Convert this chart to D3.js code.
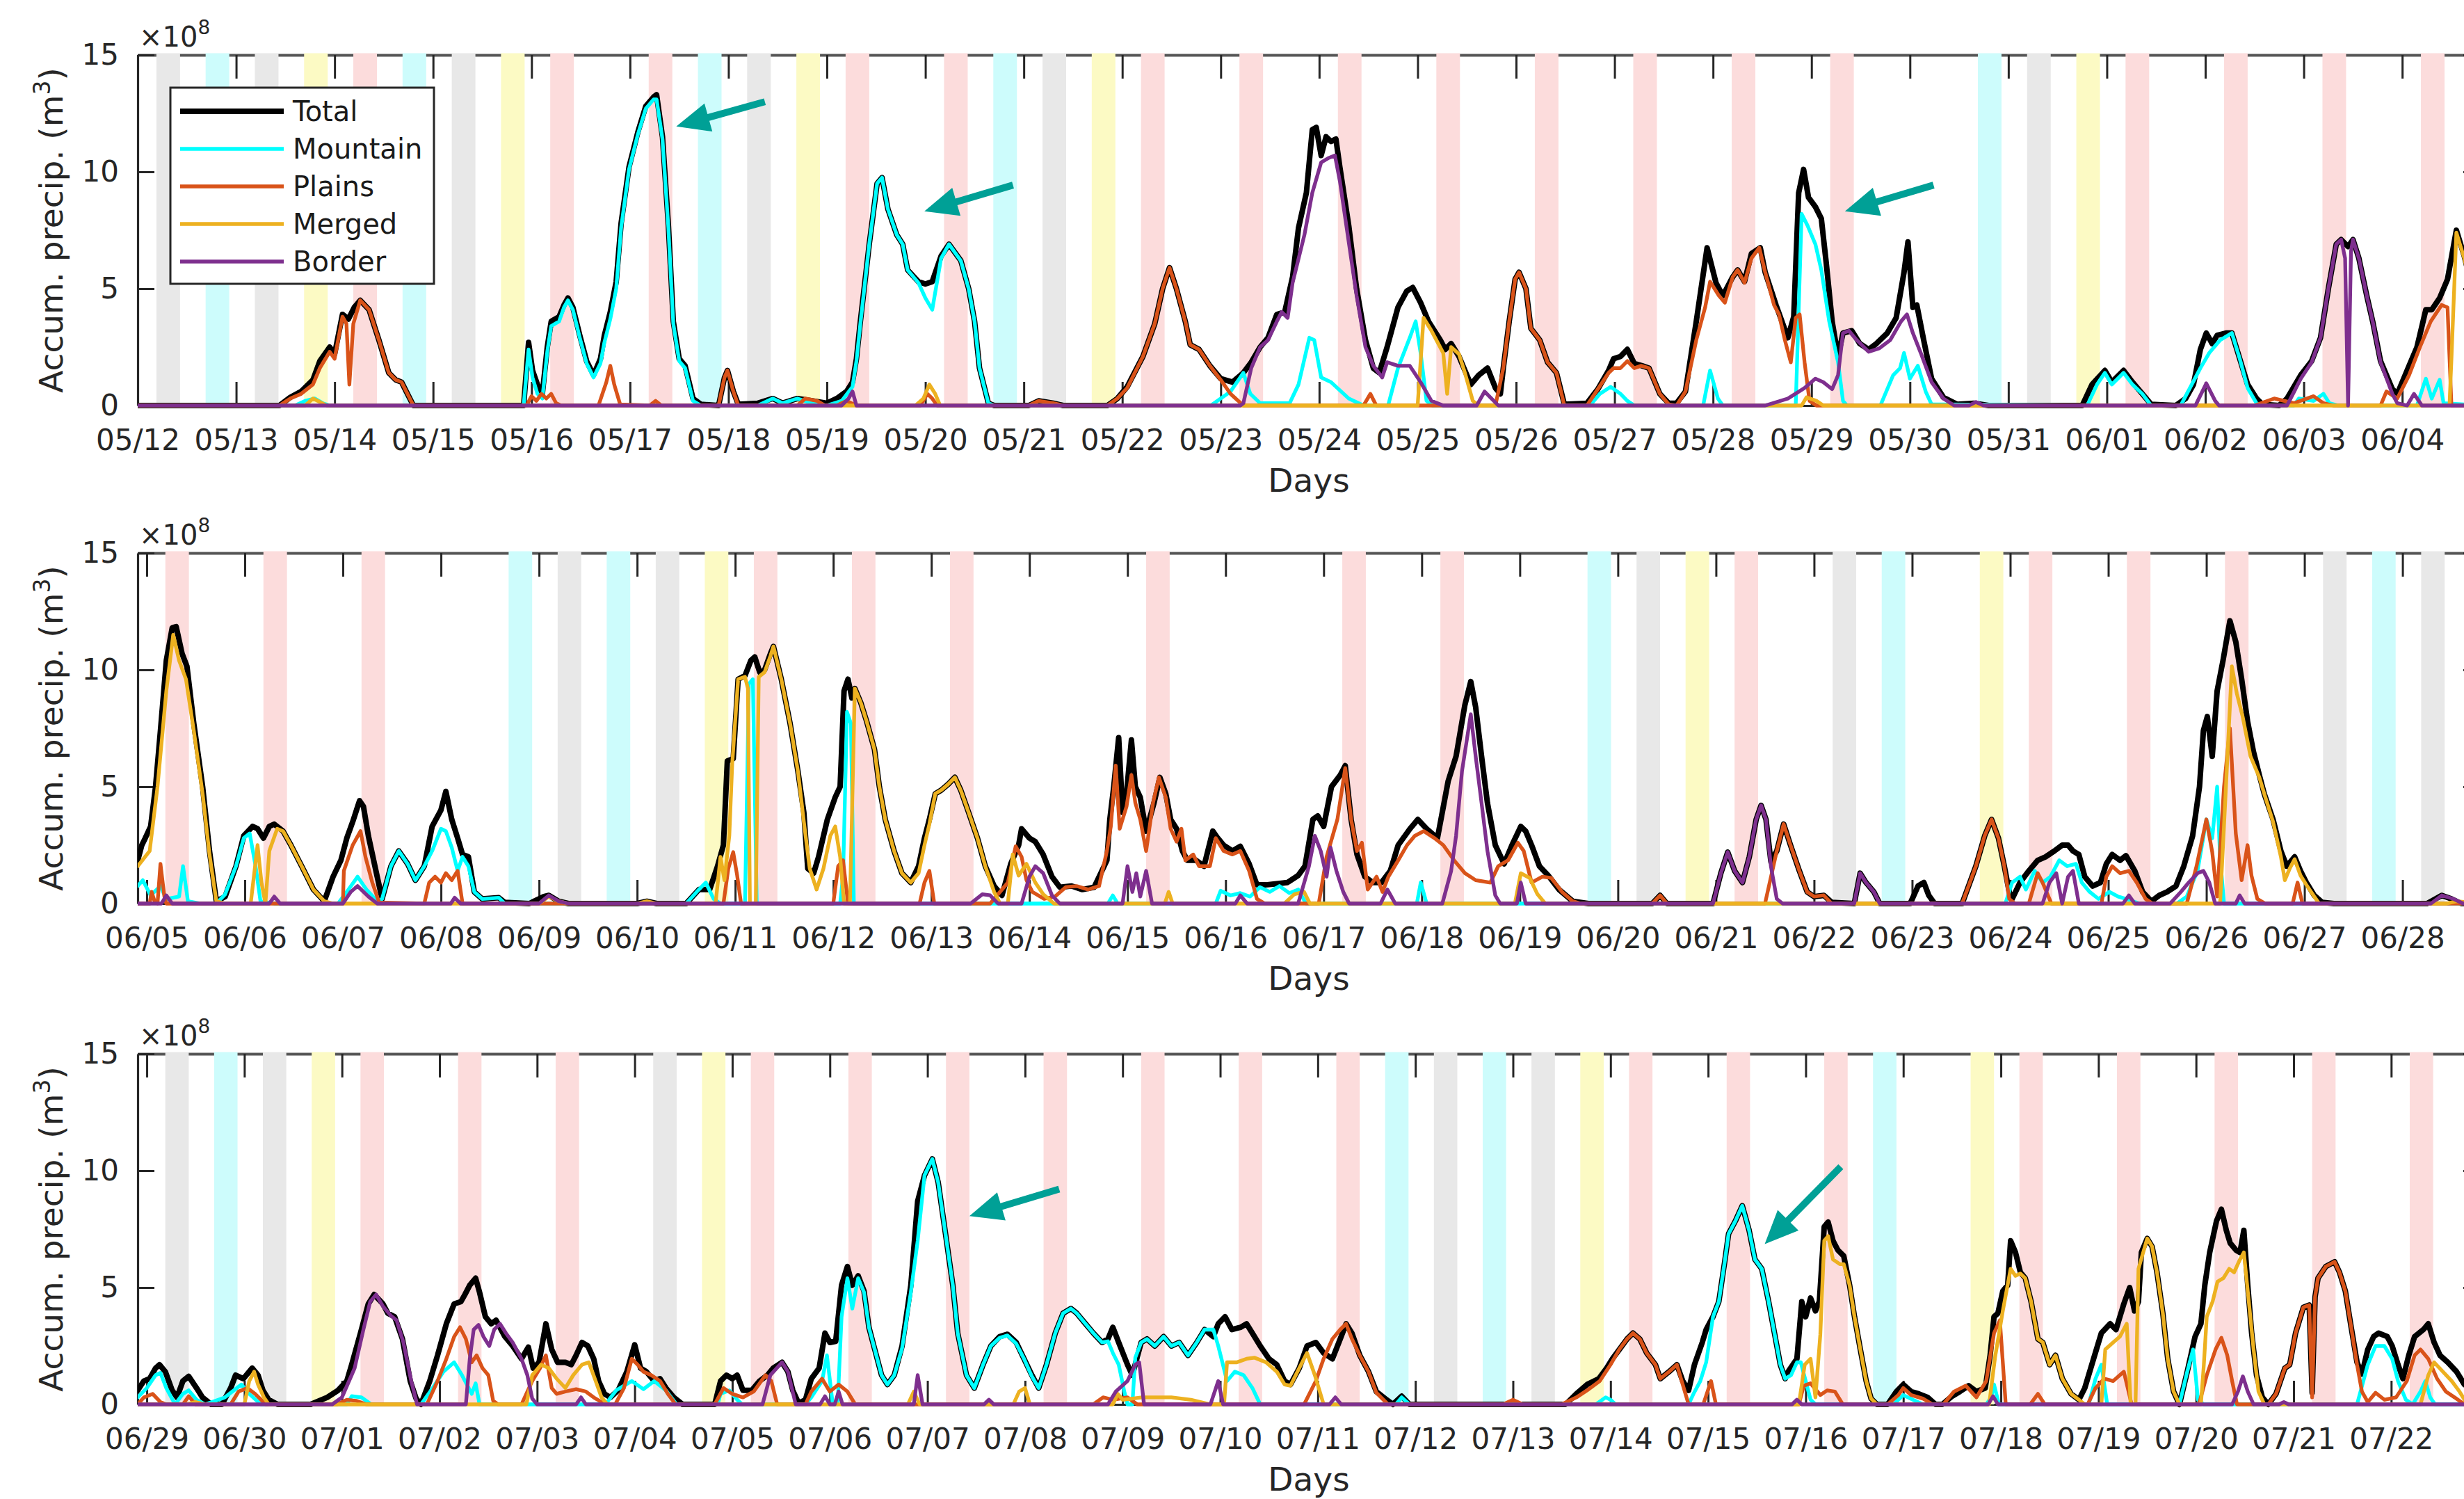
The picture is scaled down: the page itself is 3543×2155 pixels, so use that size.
<!DOCTYPE html>
<html>
<head>
<meta charset="utf-8">
<script src="https://cdn.jsdelivr.net/npm/d3@7"></script>
<style>
  html, body { margin: 0; padding: 0; background: #ffffff; }
  svg { display: block; font-family: "DejaVu Sans", sans-serif; }
</style>
</head>
<body>
<svg id="chart" width="3543" height="2155"></svg>
<script>
// ---------------------------------------------------------------------------
// Data: accumulated precipitation (units of 1e8 m^3), time in days from the
// first labelled day of each panel. Each series is a list of [day, value].
// ---------------------------------------------------------------------------
const seriesNames = ["Total", "Mountain", "Plains", "Merged", "Border"];
const yTicks = [0, 5, 10, 15];

// ---- Panel 1: 05/12 - 06/04 ----
const p1Labels = ["05/12","05/13","05/14","05/15","05/16","05/17","05/18","05/19","05/20","05/21","05/22","05/23",
                  "05/24","05/25","05/26","05/27","05/28","05/29","05/30","05/31","06/01","06/02","06/03","06/04"];
const p1Domain = [0, 23.79];
// half-day slot index and regime class of each shaded window
const p1Bands = [[0,"G"],[1,"C"],[2,"G"],[3,"Y"],[4,"P"],[5,"C"],[6,"G"],[7,"Y"],[8,"P"],[10,"P"],[11,"C"],[12,"G"],
                 [13,"Y"],[14,"P"],[16,"P"],[17,"C"],[18,"G"],[19,"Y"],[20,"P"],[22,"P"],[24,"P"],[26,"P"],[28,"P"],
                 [30,"P"],[32,"P"],[34,"P"],[37,"C"],[38,"G"],[39,"Y"],[40,"P"],[42,"P"],[44,"P"],[46,"P"]];
const p1Total = [[0,0],[1.44,0],[1.55,0.35],[1.66,0.6],[1.78,1.1],[1.85,1.9],[1.95,2.5],[2.0,2.2],[2.08,3.9],[2.14,3.7],
  [2.2,4.2],[2.26,4.5],[2.35,4.1],[2.45,2.8],[2.55,1.4],[2.62,1.1],[2.68,1.0],[2.8,0],
  [3.92,0],[3.97,2.7],[4.01,1.5],[4.06,0.9],[4.11,0.5],[4.16,2.5],[4.2,3.6],[4.28,3.8],[4.33,4.3],[4.37,4.6],[4.42,4.2],
  [4.49,3.0],[4.56,1.9],[4.63,1.3],[4.7,2.0],[4.74,3.0],[4.8,4.0],[4.86,5.3],[4.91,7.8],[4.99,10.2],[5.08,11.7],
  [5.16,12.8],[5.24,13.2],[5.27,13.3],[5.33,11.5],[5.39,7.7],[5.44,3.6],[5.5,2.0],[5.56,1.7],[5.64,0.3],[5.72,0.05],
  [5.9,0],[5.96,1.2],[5.99,1.5],[6.05,0.6],[6.1,0.05],
  [6.3,0.1],[6.45,0.3],[6.55,0.1],[6.7,0.3],[6.85,0.2],[7.0,0.1],[7.1,0.3],[7.2,0.6],[7.26,1.0],[7.3,2.0],[7.34,3.6],
  [7.43,6.9],[7.51,9.5],[7.56,9.75],[7.62,8.4],[7.71,7.3],[7.77,6.9],[7.82,5.8],[7.93,5.3],[8.0,5.2],[8.07,5.3],
  [8.16,6.4],[8.24,6.9],[8.36,6.2],[8.44,5.0],[8.5,3.6],[8.55,1.6],[8.64,0.1],[8.7,0],
  [9.05,0],[9.15,0.2],[9.3,0.1],[9.4,0],
  [9.85,0],[9.95,0.3],[10.05,0.8],[10.21,2.1],[10.33,3.5],[10.41,5.0],[10.48,5.9],[10.55,5.0],[10.64,3.6],[10.69,2.6],
  [10.78,2.4],[10.89,1.7],[11.0,1.15],[11.12,1.0],[11.23,1.4],[11.31,1.85],[11.4,2.5],[11.48,2.9],[11.57,3.9],
  [11.65,4.0],[11.73,5.5],[11.79,7.6],[11.87,9.1],[11.93,11.8],[11.97,11.9],[12.02,10.7],[12.07,11.5],[12.12,11.3],
  [12.17,11.4],[12.21,10.2],[12.3,7.7],[12.38,5.0],[12.47,2.8],[12.55,1.6],[12.61,1.4],[12.69,2.5],[12.8,4.2],
  [12.89,4.9],[12.95,5.05],[13.03,4.4],[13.11,3.6],[13.23,2.8],[13.28,2.4],[13.34,2.65],[13.42,2.1],[13.54,0.9],
  [13.62,1.3],[13.71,1.6],[13.79,0.75],[13.84,0.5],[13.87,1.6],[13.93,3.6],[13.99,5.4],[14.03,5.7],[14.1,5.0],
  [14.15,3.3],[14.24,2.8],[14.32,1.85],[14.41,1.4],[14.49,0.05],
  [14.72,0.1],[14.83,0.7],[14.94,1.5],[14.99,2.0],[15.06,2.1],[15.13,2.4],[15.2,1.8],[15.28,1.7],[15.35,1.6],
  [15.46,0.5],[15.55,0.1],[15.63,0.1],[15.72,0.6],[15.83,3.6],[15.94,6.75],[16.03,5.25],[16.1,4.7],[16.2,5.5],
  [16.25,5.8],[16.32,5.3],[16.39,6.5],[16.48,6.75],[16.53,5.7],[16.64,4.3],[16.76,2.9],[16.82,3.8],[16.87,9.1],
  [16.92,10.1],[16.97,8.9],[17.04,8.5],[17.1,8.0],[17.15,6.1],[17.21,3.6],[17.27,2.1],[17.32,3.1],[17.41,3.2],
  [17.49,2.65],[17.58,2.4],[17.66,2.65],[17.77,3.1],[17.86,3.75],[17.94,5.7],[17.98,7.0],[18.03,4.2],[18.07,4.3],
  [18.14,2.8],[18.22,1.15],[18.34,0.35],[18.48,0.05],[18.65,0.1],[18.8,0],
  [19.75,0],[19.85,0.9],[19.98,1.5],[20.05,1.0],[20.17,1.5],[20.26,1.0],[20.36,0.5],[20.45,0.05],
  [20.7,0],[20.8,0.3],[20.88,0.9],[20.95,2.4],[21.01,3.1],[21.07,2.65],[21.12,3.0],[21.21,3.1],[21.27,3.1],
  [21.35,2.0],[21.43,0.9],[21.52,0.3],[21.58,0.05],
  [21.75,0],[21.83,0.3],[21.97,1.3],[22.08,1.9],[22.17,2.9],[22.25,5.0],[22.33,6.9],[22.38,7.1],[22.45,6.8],
  [22.5,7.1],[22.56,6.3],[22.64,4.7],[22.7,3.6],[22.78,1.9],[22.9,0.7],[22.95,0.5],[23.07,1.7],[23.15,2.5],
  [23.24,4.1],[23.3,4.1],[23.38,4.6],[23.46,5.4],[23.55,7.5],[23.63,6.4],[23.7,5.2],[23.79,4.4]];
const p1Mountain = [[0,0],[1.6,0],[1.7,0.2],[1.8,0.3],[1.88,0.1],[1.95,0],
  [3.92,0],[3.97,2.4],[4.01,1.2],[4.06,0.5],[4.11,0.3],[4.16,2.3],[4.2,3.4],[4.28,3.6],[4.33,4.2],[4.37,4.5],
  [4.42,4.1],[4.49,2.9],[4.56,1.8],[4.63,1.2],[4.7,1.8],[4.74,2.7],[4.8,3.7],[4.86,5.0],[4.91,7.6],[4.99,10.1],
  [5.08,11.6],[5.16,12.7],[5.24,13.1],[5.27,13.1],[5.33,11.4],[5.39,7.6],[5.44,3.5],[5.5,1.9],[5.56,1.6],
  [5.64,0.2],[5.72,0],
  [6.3,0],[6.45,0.3],[6.55,0.1],[6.7,0.3],[6.85,0.1],[7.0,0],[7.15,0.2],[7.26,0.8],[7.3,1.9],[7.34,3.5],[7.43,6.9],
  [7.51,9.5],[7.56,9.75],[7.62,8.4],[7.71,7.3],[7.77,6.9],[7.82,5.8],[7.93,5.25],[8.0,4.6],[8.07,4.1],[8.16,6.3],
  [8.24,6.9],[8.36,6.2],[8.44,5.0],[8.5,3.6],[8.55,1.6],[8.64,0.1],[8.7,0],
  [10.9,0],[11.0,0.3],[11.1,0.6],[11.23,1.4],[11.3,0.5],[11.4,0.1],[11.7,0.1],[11.79,0.9],[11.9,2.9],[11.95,2.8],
  [12.02,1.2],[12.12,1.0],[12.3,0.3],[12.45,0],[12.7,0],[12.8,1.6],[12.92,2.9],[12.98,3.6],[13.03,2.25],[13.09,0.2],
  [13.15,0],
  [14.75,0],[14.85,0.5],[14.96,0.8],[15.06,0.5],[15.13,0.2],[15.2,0],
  [15.9,0],[15.97,1.5],[16.05,0.3],[16.1,0],
  [16.84,0],[16.9,8.2],[16.96,7.7],[17.04,6.9],[17.1,5.8],[17.18,3.6],[17.27,1.85],[17.32,0.2],[17.36,0],
  [17.7,0],[17.83,1.3],[17.9,1.6],[17.94,2.25],[18.0,1.15],[18.08,1.7],[18.16,0.6],[18.22,0.05],
  [19.8,0],[19.9,0.9],[19.98,1.4],[20.05,0.9],[20.17,1.4],[20.26,0.9],[20.36,0.5],[20.45,0],
  [20.75,0],[20.95,1.6],[21.04,2.25],[21.15,2.8],[21.27,3.1],[21.35,2.0],[21.43,0.75],[21.52,0.1],[21.56,0],
  [21.9,0],[21.95,0.3],[22.1,0.2],[22.2,0.5],[22.26,0.1],[22.35,0],
  [23.15,0],[23.24,1.15],[23.3,0.3],[23.38,1.1],[23.42,0.1],[23.79,0]];
const p1Plains = [[0,0],[1.44,0],[1.55,0.3],[1.66,0.5],[1.78,0.9],[1.85,1.6],[1.95,2.3],[2.0,2.0],[2.08,3.8],[2.12,3.5],
  [2.15,0.9],[2.19,3.5],[2.26,4.5],[2.35,4.1],[2.45,2.8],[2.55,1.4],[2.62,1.1],[2.68,1.0],[2.8,0],
  [3.95,0],[4.0,0.4],[4.05,0.2],[4.1,0.5],[4.15,0.3],[4.2,0.5],[4.25,0.1],[4.3,0],[4.68,0],[4.76,1.0],[4.8,1.7],
  [4.84,0.9],[4.9,0.05],[5.2,0],[5.26,0.2],[5.32,0],[5.9,0],[5.96,1.2],[5.99,1.5],[6.05,0.6],[6.1,0],
  [6.7,0],[6.78,0.3],[6.9,0.2],[6.98,0],[7.1,0],[7.2,0.2],[7.3,0],
  [7.95,0],[8.02,0.5],[8.07,0.3],[8.12,0],
  [9.05,0],[9.15,0.2],[9.3,0.1],[9.4,0],
  [9.85,0],[9.95,0.3],[10.05,0.75],[10.21,2.1],[10.33,3.5],[10.41,5.0],[10.48,5.9],[10.55,5.0],[10.64,3.6],
  [10.69,2.6],[10.78,2.4],[10.89,1.7],[11.0,1.1],[11.1,0.5],[11.23,0],
  [12.45,0],[12.52,0.5],[12.58,0],
  [13.79,0],[13.87,1.6],[13.93,3.6],[13.99,5.4],[14.03,5.7],[14.1,5.0],[14.15,3.3],[14.24,2.8],[14.32,1.85],
  [14.41,1.4],[14.49,0],
  [14.72,0],[14.83,0.7],[14.94,1.4],[14.99,1.6],[15.06,1.6],[15.13,1.9],[15.2,1.6],[15.27,1.7],[15.35,1.6],
  [15.46,0.5],[15.55,0.05],
  [15.63,0],[15.72,0.6],[15.83,2.8],[15.92,4.2],[15.97,5.3],[16.06,4.7],[16.12,4.4],[16.2,5.5],[16.25,5.8],
  [16.32,5.25],[16.39,6.3],[16.47,6.75],[16.53,5.7],[16.62,4.3],[16.67,3.9],[16.73,2.8],[16.79,1.85],[16.84,3.75],
  [16.88,3.9],[16.93,1.85],[16.98,0.2],[17.05,0],
  [21.5,0],[21.7,0.3],[21.9,0.1],[22.1,0.4],[22.2,0.1],[22.3,0],
  [22.78,0],[22.84,0.6],[22.95,0.3],[23.07,1.3],[23.18,2.5],[23.29,3.6],[23.4,4.3],[23.46,4.2],[23.5,0],[23.79,0]];
const p1Merged = [[0,0],[1.7,0],[1.78,0.3],[1.85,0.15],[1.92,0],
  [7.9,0],[7.98,0.3],[8.04,0.9],[8.1,0.5],[8.15,0],
  [13.0,0],[13.06,3.75],[13.14,3.2],[13.26,2.25],[13.3,0.5],[13.34,2.5],[13.42,2.2],[13.48,1.4],[13.56,0.2],[13.62,0],
  [16.9,0],[16.95,0.35],[17.05,0.2],[17.12,0],
  [23.48,0],[23.5,2.0],[23.55,7.4],[23.63,6.3],[23.7,5.0],[23.79,4.0]];
const p1Border = [[0,0],[7.15,0],[7.22,0.3],[7.26,0.6],[7.3,0],
  [11.2,0],[11.23,0.1],[11.31,1.6],[11.4,2.5],[11.48,2.8],[11.57,3.6],[11.62,4.0],[11.68,3.75],[11.73,5.25],
  [11.85,7.3],[11.93,9.1],[12.02,10.4],[12.1,10.6],[12.16,10.7],[12.21,9.6],[12.3,7.0],[12.38,4.7],[12.47,2.5],
  [12.55,1.7],[12.64,1.2],[12.69,1.85],[12.8,1.7],[12.92,1.7],[13.03,1.0],[13.14,0.2],[13.26,0],[13.6,0],[13.68,0.6],
  [13.82,0],
  [16.53,0],[16.76,0.3],[16.93,0.75],[17.04,1.15],[17.12,1.0],[17.21,0.7],[17.27,1.3],[17.32,3.1],[17.38,3.2],
  [17.46,2.8],[17.58,2.3],[17.69,2.45],[17.8,2.8],[17.91,3.6],[17.97,3.9],[18.03,3.1],[18.11,2.25],[18.22,1.0],
  [18.34,0.3],[18.45,0],[18.6,0],[18.67,0.15],[18.75,0],
  [20.9,0],[21.01,0.95],[21.1,0.2],[21.14,0],
  [21.83,0],[21.97,1.15],[22.08,1.85],[22.17,2.9],[22.25,5.0],[22.33,6.9],[22.38,7.1],[22.42,6.3],[22.45,0],
  [22.48,6.6],[22.5,7.1],[22.56,6.3],[22.64,4.7],[22.7,3.6],[22.78,1.85],[22.9,0.5],[22.95,0.1],[23.05,0],
  [23.12,0.5],[23.2,0],[23.79,0]];
const p1Arrows = [[6.37,13.0,5.47,11.94],[8.89,9.43,7.99,8.31],[18.24,9.43,17.34,8.31]];

// ---- Panel 2: 06/05 - 06/28 ----
const p2Labels = ["06/05","06/06","06/07","06/08","06/09","06/10","06/11","06/12","06/13","06/14","06/15","06/16",
                  "06/17","06/18","06/19","06/20","06/21","06/22","06/23","06/24","06/25","06/26","06/27","06/28"];
const p2Domain = [-0.092, 23.79];
const p2Bands = [[0,"P"],[2,"P"],[4,"P"],[7,"C"],[8,"G"],[9,"C"],[10,"G"],[11,"Y"],[12,"P"],[14,"P"],[16,"P"],[20,"P"],
                 [24,"P"],[26,"P"],[29,"C"],[30,"G"],[31,"Y"],[32,"P"],[34,"G"],[35,"C"],[37,"Y"],[38,"P"],[40,"P"],
                 [42,"P"],[44,"G"],[45,"C"],[46,"G"]];
const p2Total = [[-0.092,1.85],[-0.05,2.5],[-0.015,2.8],[0.04,3.3],[0.09,5.0],[0.14,7.4],[0.2,10.4],[0.26,11.8],
  [0.3,11.85],[0.36,10.7],[0.41,10.15],[0.48,7.7],[0.57,5.0],[0.64,2.25],[0.71,0.1],[0.8,0.3],[0.91,1.6],[0.99,2.9],
  [1.08,3.3],[1.13,3.2],[1.19,2.8],[1.25,3.3],[1.3,3.4],[1.39,3.1],[1.47,2.5],[1.58,1.6],[1.7,0.6],[1.81,0.1],
  [1.9,1.15],[1.98,1.85],[2.04,2.8],[2.1,3.5],[2.17,4.4],[2.21,4.15],[2.26,2.9],[2.35,1.15],[2.4,0.2],[2.49,1.6],
  [2.57,2.25],[2.66,1.7],[2.74,1.0],[2.83,1.6],[2.91,3.3],[3.0,4.0],[3.05,4.8],[3.11,3.6],[3.17,2.8],[3.22,2.1],
  [3.28,2.0],[3.34,0.5],[3.42,0.2],[3.59,0.25],[3.65,0.05],
  [3.9,0],[4.05,0.3],[4.1,0.35],[4.2,0.1],[4.3,0],[5.0,0],[5.1,0.1],[5.2,0],
  [5.5,0],[5.63,0.6],[5.74,0.6],[5.82,1.6],[5.88,2.5],[5.92,6.1],[5.98,6.2],[6.03,9.6],[6.1,9.75],[6.16,10.4],
  [6.2,10.55],[6.25,9.9],[6.3,10.0],[6.36,10.7],[6.39,11.0],[6.47,9.6],[6.56,7.7],[6.64,5.65],[6.7,3.9],[6.74,1.5],
  [6.8,1.3],[6.85,2.0],[6.94,3.6],[7.02,4.55],[7.07,5.0],[7.11,9.1],[7.15,9.6],[7.19,8.8],[7.22,9.2],[7.28,8.6],
  [7.34,7.8],[7.42,6.6],[7.47,5.0],[7.53,3.6],[7.62,2.25],[7.7,1.3],[7.79,0.9],[7.87,1.6],[7.93,2.8],[7.98,3.6],
  [8.04,4.7],[8.1,4.85],[8.17,5.1],[8.24,5.4],[8.3,4.85],[8.38,3.9],[8.47,2.8],[8.55,1.6],[8.64,0.75],[8.72,0.35],
  [8.81,1.7],[8.89,2.5],[8.92,3.2],[9.0,2.8],[9.06,2.65],[9.14,2.1],[9.23,1.15],[9.31,0.7],[9.43,0.75],[9.54,0.6],
  [9.66,0.7],[9.79,1.85],[9.82,3.6],[9.86,5.0],[9.91,7.1],[9.95,3.9],[9.99,4.7],[10.04,7.0],[10.08,5.0],[10.13,4.55],
  [10.19,3.1],[10.27,4.3],[10.33,5.4],[10.39,4.7],[10.44,3.6],[10.5,3.2],[10.56,2.25],[10.61,1.85],[10.7,1.85],
  [10.78,1.6],[10.87,3.1],[10.92,2.8],[10.98,2.5],[11.07,2.25],[11.15,2.45],[11.24,1.7],[11.32,0.8],[11.41,0.8],
  [11.52,0.85],[11.63,0.9],[11.74,1.2],[11.81,1.6],[11.89,3.6],[11.94,3.75],[12.0,3.3],[12.08,5.0],[12.17,5.5],
  [12.22,5.9],[12.28,3.6],[12.34,2.1],[12.42,1.15],[12.5,0.9],[12.59,0.9],[12.68,1.4],[12.76,2.5],[12.88,3.2],
  [12.96,3.6],[13.05,3.2],[13.16,2.8],[13.27,5.25],[13.35,6.3],[13.44,8.5],[13.5,9.5],[13.55,8.4],[13.61,6.3],
  [13.67,4.3],[13.75,2.5],[13.84,1.7],[13.92,2.5],[14.01,3.3],[14.06,3.1],[14.12,2.5],[14.2,1.6],[14.29,1.2],
  [14.4,0.6],[14.54,0.1],[14.7,0],
  [15.35,0],[15.43,0.35],[15.5,0],
  [15.97,0],[16.05,1.3],[16.12,2.2],[16.19,1.4],[16.27,0.9],[16.34,2.0],[16.41,3.6],[16.46,4.2],[16.51,3.6],
  [16.56,1.8],[16.62,2.25],[16.69,3.4],[16.76,2.5],[16.85,1.4],[16.93,0.5],[17.0,0.3],[17.1,0.35],[17.18,0.05],
  [17.41,0],[17.47,1.3],[17.53,0.9],[17.61,0.5],[17.67,0],
  [17.98,0],[18.06,0.75],[18.12,0.9],[18.17,0.35],[18.23,0],
  [18.51,0],[18.65,1.6],[18.74,2.9],[18.81,3.6],[18.88,2.8],[18.94,1.6],[18.99,0.5],[19.02,0.2],[19.1,0.9],
  [19.19,1.4],[19.28,1.85],[19.36,2.0],[19.45,2.25],[19.53,2.5],[19.59,2.5],[19.64,2.25],[19.7,2.1],[19.76,1.15],
  [19.84,0.75],[19.92,0.9],[19.98,1.7],[20.04,2.1],[20.12,1.85],[20.18,2.05],[20.27,1.4],[20.35,0.5],[20.44,0.1],
  [20.52,0.35],[20.6,0.5],[20.69,0.75],[20.77,1.6],[20.86,2.9],[20.93,5.0],[20.97,7.4],[21.01,8.0],[21.06,6.3],
  [21.11,9.1],[21.17,10.4],[21.24,12.1],[21.3,11.2],[21.36,9.6],[21.42,7.8],[21.48,6.5],[21.54,5.5],[21.59,4.7],
  [21.68,3.6],[21.76,2.25],[21.82,1.6],[21.9,2.0],[21.96,1.4],[22.02,0.9],[22.1,0.35],[22.18,0.05],[22.3,0],
  [23.25,0],[23.4,0.35],[23.5,0.2],[23.6,0],[23.79,0]];
const p2Mountain = [[-0.092,0.75],[-0.04,1.0],[0.04,0.35],[0.14,0.75],[0.2,0.2],[0.33,0.3],[0.37,1.6],[0.42,0.1],
  [0.55,0],[0.71,0],[0.8,0.4],[0.91,1.6],[0.99,2.8],[1.05,3.0],[1.11,1.6],[1.16,0.1],[1.3,0],
  [1.95,0],[2.04,0.5],[2.15,1.15],[2.24,0.6],[2.35,0.1],[2.4,0.2],[2.49,1.6],[2.57,2.25],[2.66,1.7],[2.74,1.0],
  [2.83,1.6],[2.91,2.25],[3.0,3.2],[3.05,3.1],[3.11,2.4],[3.17,1.4],[3.22,2.0],[3.28,1.6],[3.34,0.5],[3.42,0.2],
  [3.59,0.25],[3.65,0],
  [5.5,0],[5.63,0.6],[5.7,0.9],[5.78,0.2],[5.85,0],[6.1,0],[6.14,9.4],[6.18,9.6],[6.22,0],
  [7.07,0],[7.1,1.2],[7.14,8.2],[7.18,7.7],[7.21,0],
  [9.8,0],[9.85,0.35],[9.9,0],
  [10.9,0],[10.95,0.55],[11.05,0.35],[11.15,0.45],[11.25,0.3],[11.35,0.7],[11.45,0.5],[11.55,0.75],[11.65,0.45],
  [11.74,0.6],[11.82,0],
  [12.95,0],[12.99,0.9],[13.05,0],
  [18.95,0],[19.02,0.9],[19.1,1.15],[19.16,0.6],[19.25,1.4],[19.33,0.9],[19.41,1.15],[19.5,1.85],[19.58,1.6],
  [19.67,1.7],[19.73,0.9],[19.81,0.5],[19.9,0.2],[20.01,0.5],[20.1,0.3],[20.18,0.2],[20.32,0],
  [20.7,0],[20.8,0.3],[20.91,1.4],[21.0,3.6],[21.06,2.8],[21.11,5.0],[21.14,2.0],[21.18,0],[23.79,0]];
const p2Plains = [[-0.092,0],[0.03,0],[0.05,0.5],[0.08,0.1],[0.11,0],[0.14,1.7],[0.18,0.3],[0.2,0],
  [2.0,0],[2.01,1.4],[2.1,2.5],[2.18,3.1],[2.23,2.0],[2.3,0.9],[2.37,0.05],[2.83,0],[2.88,0.9],[2.94,1.15],[3.0,0.9],
  [3.05,1.3],[3.11,1.0],[3.17,1.4],[3.22,0],
  [5.88,0],[5.93,1.5],[5.98,2.2],[6.02,1.2],[6.06,0],
  [7.0,0],[7.05,1.6],[7.1,1.85],[7.15,0],
  [7.88,0],[7.93,0.9],[7.98,1.4],[8.03,0],
  [8.6,0],[8.78,0.9],[8.86,2.45],[8.92,2.0],[8.97,1.0],[9.03,0.5],[9.15,0.2],[9.26,0.3],[9.37,0.7],[9.48,0.75],
  [9.6,0.6],[9.71,0.75],[9.79,2.25],[9.83,3.3],[9.88,5.9],[9.92,3.2],[9.99,4.15],[10.04,5.5],[10.08,4.3],
  [10.13,3.6],[10.19,2.25],[10.26,4.3],[10.32,5.4],[10.39,4.55],[10.44,3.2],[10.5,2.65],[10.55,3.2],[10.59,1.85],
  [10.67,2.1],[10.73,1.6],[10.84,1.6],[10.9,2.8],[10.98,2.25],[11.07,2.1],[11.15,2.25],[11.24,1.4],[11.32,0.2],
  [11.4,0],
  [11.95,0],[12.03,2.0],[12.14,3.6],[12.22,5.8],[12.28,3.6],[12.34,2.25],[12.39,2.6],[12.45,0.6],[12.54,1.15],
  [12.6,0.5],[12.66,1.15],[12.76,1.85],[12.85,2.5],[12.93,2.9],[13.02,3.1],[13.13,2.8],[13.22,2.5],[13.33,1.85],
  [13.44,1.3],[13.55,1.0],[13.7,0.9],[13.78,1.6],[13.88,1.85],[13.98,2.6],[14.04,2.25],[14.12,0.9],[14.23,1.15],
  [14.32,1.1],[14.43,0.5],[14.54,0.1],[14.62,0],
  [15.35,0],[15.43,0.35],[15.5,0],
  [16.5,0],[16.62,2.25],[16.69,3.4],[16.76,2.5],[16.85,1.4],[16.93,0.5],[17.0,0.3],[17.1,0.35],[17.18,0],
  [18.51,0],[18.65,1.6],[18.74,2.9],[18.81,3.6],[18.88,2.8],[18.94,1.6],[18.99,0.2],[19.05,0],
  [19.19,0],[19.28,1.3],[19.33,0.9],[19.42,0],
  [19.93,0],[19.98,1.15],[20.04,1.6],[20.12,1.3],[20.21,1.4],[20.29,0.9],[20.38,0.2],[20.45,0],
  [20.8,0],[20.9,1.6],[21.0,3.6],[21.06,2.2],[21.11,0.3],[21.18,5.0],[21.24,7.5],[21.3,3.0],[21.36,1.0],[21.42,2.5],
  [21.46,1.2],[21.52,0.2],[21.6,0],[21.88,0],[21.93,0.9],[21.98,0],[23.79,0]];
const p2Merged = [[-0.092,1.6],[0.03,2.25],[0.11,5.0],[0.2,9.1],[0.27,11.5],[0.33,10.4],[0.4,9.6],[0.48,7.4],
  [0.57,4.7],[0.64,2.1],[0.71,0.1],[0.8,0],[1.06,0],[1.13,2.5],[1.17,0.9],[1.21,0],[1.25,2.25],[1.33,3.2],[1.39,3.1],
  [1.47,2.5],[1.58,1.6],[1.7,0.6],[1.81,0.1],[1.9,0],
  [4.0,0],[4.1,0.3],[4.2,0.1],[4.3,0],[5.0,0],[5.1,0.1],[5.2,0],
  [5.8,0],[5.85,2.0],[5.89,1.0],[5.94,2.9],[5.97,6.0],[6.03,9.6],[6.1,9.7],[6.13,9.2],[6.15,0],[6.21,0],[6.24,9.7],
  [6.3,9.9],[6.36,10.6],[6.39,11.0],[6.47,9.6],[6.56,7.7],[6.64,5.65],[6.7,3.5],[6.76,1.5],[6.83,0.6],[6.9,1.5],
  [6.97,2.9],[7.02,3.3],[7.07,2.0],[7.11,0],[7.17,0],[7.22,9.2],[7.28,8.6],[7.34,7.8],[7.42,6.6],[7.47,5.0],
  [7.53,3.6],[7.62,2.25],[7.7,1.3],[7.79,0.9],[7.87,1.3],[7.93,2.5],[7.98,3.4],[8.04,4.7],[8.1,4.85],[8.17,5.1],
  [8.24,5.4],[8.3,4.85],[8.38,3.9],[8.47,2.8],[8.55,1.6],[8.64,0.5],[8.7,0],[8.78,0],[8.83,2.1],[8.89,1.2],
  [8.97,1.7],[9.06,0.9],[9.14,0.4],[9.25,0],
  [10.38,0],[10.42,0.5],[10.46,0],
  [11.6,0],[11.7,0.4],[11.8,0.5],[11.86,0],
  [13.95,0],[14.01,1.3],[14.1,1.1],[14.18,0.4],[14.26,0],
  [21.14,0],[21.2,5.0],[21.26,10.15],[21.31,9.0],[21.37,8.0],[21.45,6.3],[21.54,5.4],[21.59,4.7],[21.68,3.5],
  [21.76,2.0],[21.8,1.0],[21.85,1.5],[21.9,1.9],[21.96,1.2],[22.02,0.8],[22.1,0.3],[22.15,0],[23.45,0],[23.55,0.1],
  [23.79,0]];
const p2Border = [[-0.092,0],[0.15,0],[0.2,0.35],[0.26,0],[1.25,0],[1.3,0.3],[1.36,0],
  [2.0,0],[2.08,0.5],[2.15,0.75],[2.26,0.3],[2.35,0],[3.1,0],[3.14,0.25],[3.2,0],
  [4.0,0],[4.1,0.35],[4.2,0.1],[4.3,0],
  [8.4,0],[8.52,0.4],[8.6,0.35],[8.68,0],
  [8.92,0],[9.0,1.15],[9.06,1.6],[9.14,1.3],[9.23,0.35],[9.31,0],
  [9.95,0],[10.0,1.6],[10.05,0.5],[10.09,1.3],[10.13,0.3],[10.19,1.4],[10.25,0],
  [11.1,0],[11.15,0.35],[11.22,0],
  [11.74,0],[11.85,1.6],[11.91,2.9],[11.97,2.25],[12.03,1.15],[12.07,2.4],[12.13,1.4],[12.2,0.5],[12.26,0],
  [12.58,0],[12.65,0.6],[12.73,0],
  [13.21,0],[13.3,1.4],[13.35,2.9],[13.41,5.65],[13.5,8.1],[13.55,6.3],[13.61,4.3],[13.67,2.25],[13.75,0.35],
  [13.8,0],
  [13.97,0],[14.01,0.9],[14.06,0],
  [15.97,0],[16.05,1.3],[16.12,2.2],[16.19,1.4],[16.27,0.9],[16.34,2.0],[16.41,3.6],[16.46,4.2],[16.51,3.6],
  [16.56,1.6],[16.62,0.2],[16.68,0],
  [17.41,0],[17.47,1.3],[17.53,0.9],[17.61,0.5],[17.67,0],
  [19.33,0],[19.4,0.9],[19.47,1.3],[19.53,0],[19.59,1.15],[19.64,1.4],[19.7,0],
  [20.15,0],[20.21,0.35],[20.27,0],
  [20.63,0],[20.74,0.5],[20.82,0.9],[20.91,1.3],[20.97,1.4],[21.03,0.9],[21.09,0],[21.3,0],[21.34,0.35],[21.39,0],
  [23.29,0],[23.4,0.35],[23.52,0.2],[23.62,0],[23.79,0]];
const p2Arrows = [];

// ---- Panel 3: 06/29 - 07/22 ----
const p3Labels = ["06/29","06/30","07/01","07/02","07/03","07/04","07/05","07/06","07/07","07/08","07/09","07/10",
                  "07/11","07/12","07/13","07/14","07/15","07/16","07/17","07/18","07/19","07/20","07/21","07/22"];
const p3Domain = [-0.093, 23.91];
const p3Bands = [[0,"G"],[1,"C"],[2,"G"],[3,"Y"],[4,"P"],[6,"P"],[8,"P"],[10,"G"],[11,"Y"],[12,"P"],[14,"P"],[16,"P"],
                 [18,"P"],[20,"P"],[22,"P"],[24,"P"],[25,"C"],[26,"G"],[27,"C"],[28,"G"],[29,"Y"],[30,"P"],[32,"P"],
                 [34,"P"],[35,"C"],[37,"Y"],[38,"P"],[40,"P"],[42,"P"],[44,"P"],[46,"P"]];
const p3Total = [[-0.093,0.6],[-0.03,1.0],[0.03,1.1],[0.09,1.55],[0.13,1.7],[0.19,1.4],[0.26,0.6],[0.31,0.3],
  [0.37,1.0],[0.43,1.2],[0.51,0.7],[0.57,0.3],[0.66,0],
  [0.77,0],[0.86,0.7],[0.91,1.25],[0.99,1.1],[1.08,1.55],[1.14,1.25],[1.19,0.6],[1.25,0.2],[1.34,0],
  [1.68,0],[1.85,0.3],[1.96,0.6],[2.05,1.0],[2.1,1.7],[2.19,3.05],[2.27,4.3],[2.33,4.7],[2.42,4.3],[2.47,3.9],
  [2.54,3.75],[2.62,2.8],[2.7,1.0],[2.76,0.25],[2.81,0],
  [2.9,1.0],[2.98,2.1],[3.07,3.45],[3.15,4.3],[3.22,4.4],[3.26,4.7],[3.31,5.1],[3.37,5.4],[3.41,4.8],[3.47,3.75],
  [3.53,3.45],[3.58,3.6],[3.67,2.9],[3.75,2.5],[3.84,1.95],[3.91,2.45],[3.96,1.55],[4.02,1.8],[4.09,3.45],
  [4.15,2.35],[4.21,1.8],[4.29,1.8],[4.35,1.7],[4.4,2.1],[4.46,2.65],[4.52,2.5],[4.58,1.95],[4.63,1.0],[4.69,0.45],
  [4.75,0.3],[4.83,0.6],[4.92,1.4],[5.0,2.55],[5.06,1.55],[5.12,1.4],[5.2,1.0],[5.26,1.1],[5.32,0.7],[5.4,0.3],
  [5.49,0],
  [5.82,0],[5.88,1.0],[5.94,1.25],[6.0,1.1],[6.05,1.25],[6.11,0.6],[6.2,0.6],[6.28,1.0],[6.36,1.25],[6.42,1.55],
  [6.51,1.8],[6.57,1.4],[6.62,0.6],[6.68,0.05],
  [6.75,0.2],[6.81,1.1],[6.89,1.55],[6.95,3.05],[7.0,2.65],[7.06,2.7],[7.12,5.1],[7.18,5.9],[7.23,5.1],[7.29,5.5],
  [7.35,4.85],[7.4,3.3],[7.46,2.35],[7.53,1.25],[7.59,0.85],[7.66,1.25],[7.74,2.5],[7.83,5.1],[7.9,8.7],[7.97,9.8],
  [8.05,10.5],[8.11,9.5],[8.18,7.45],[8.26,5.1],[8.31,3.05],[8.4,1.25],[8.48,0.7],[8.57,1.7],[8.65,2.5],[8.74,2.9],
  [8.82,3.0],[8.91,2.65],[8.99,1.95],[9.07,1.25],[9.14,0.7],[9.22,1.7],[9.31,3.05],[9.39,3.9],[9.47,4.1],[9.53,3.9],
  [9.62,3.45],[9.7,3.05],[9.79,2.65],[9.85,2.8],[9.9,3.3],[9.96,2.65],[10.05,1.7],[10.1,1.25],[10.19,2.65],
  [10.25,2.8],[10.33,2.5],[10.42,2.9],[10.5,2.5],[10.58,2.65],[10.67,2.1],[10.76,2.65],[10.84,3.2],[10.93,2.9],
  [10.98,3.45],[11.05,3.75],[11.12,3.2],[11.21,3.3],[11.27,3.45],[11.33,3.05],[11.41,2.5],[11.5,1.95],[11.58,1.7],
  [11.66,1.0],[11.72,0.85],[11.81,1.55],[11.89,2.5],[11.98,2.65],[12.06,2.2],[12.15,1.95],[12.23,2.8],[12.29,3.45],
  [12.35,3.05],[12.43,2.1],[12.52,1.4],[12.6,0.55],[12.69,0.25],[12.77,0],[12.86,0.35],[12.94,0],
  [14.54,0],[14.65,0.45],[14.76,0.85],[14.88,1.1],[14.96,1.55],[15.02,1.95],[15.09,2.35],[15.17,2.8],[15.23,3.05],
  [15.3,2.8],[15.37,2.2],[15.46,1.7],[15.51,1.1],[15.6,1.4],[15.68,1.7],[15.74,1.0],[15.8,0.6],[15.86,1.7],
  [15.94,2.65],[15.98,3.2],[16.05,3.75],[16.11,4.4],[16.17,6.1],[16.21,7.3],[16.28,7.85],[16.35,8.5],[16.42,7.45],
  [16.48,6.2],[16.55,5.8],[16.62,4.4],[16.68,3.05],[16.74,1.7],[16.79,1.1],[16.82,1.4],[16.91,1.95],[16.96,4.4],
  [17.0,3.75],[17.05,4.55],[17.1,4.0],[17.14,4.4],[17.19,7.6],[17.23,7.8],[17.28,7.0],[17.33,6.6],[17.39,6.35],
  [17.45,5.1],[17.5,3.75],[17.56,2.35],[17.62,1.0],[17.67,0.25],[17.73,0],
  [17.84,0],[17.93,0.55],[18.0,0.85],[18.08,0.55],[18.16,0.45],[18.25,0.3],[18.33,0],
  [18.4,0],[18.5,0.35],[18.58,0.55],[18.67,0.8],[18.75,0.55],[18.84,0.7],[18.89,2.1],[18.93,3.75],[18.97,3.9],
  [19.02,4.85],[19.07,5.1],[19.1,7.0],[19.15,6.5],[19.2,5.65],[19.25,5.4],[19.31,4.4],[19.38,2.8],[19.43,2.65],
  [19.5,1.7],[19.56,2.1],[19.63,1.1],[19.72,0.45],[19.8,0.2],
  [19.86,0.7],[19.95,1.95],[20.03,3.05],[20.12,3.45],[20.18,3.2],[20.26,4.3],[20.32,5.0],[20.37,4.0],[20.41,4.4],
  [20.44,6.5],[20.5,7.1],[20.55,6.75],[20.6,5.65],[20.66,3.9],[20.71,1.95],[20.77,0.55],[20.83,0],
  [20.91,1.4],[20.99,2.9],[21.05,3.45],[21.09,5.1],[21.14,6.5],[21.21,7.85],[21.26,8.35],[21.31,7.45],[21.35,6.9],
  [21.41,6.6],[21.45,6.5],[21.49,7.45],[21.53,5.1],[21.57,3.05],[21.62,1.25],[21.68,0.3],[21.74,0],
  [21.82,0.45],[21.91,1.55],[21.96,1.7],[22.02,3.05],[22.1,4.15],[22.16,4.25],[22.19,0.5],[22.22,4.6],[22.25,5.4],
  [22.33,5.9],[22.42,6.1],[22.47,5.65],[22.53,4.85],[22.59,3.3],[22.65,1.8],[22.7,1.3],[22.76,2.35],[22.82,2.9],
  [22.87,3.05],[22.96,2.9],[23.01,2.5],[23.07,1.7],[23.12,1.1],[23.18,2.1],[23.24,2.9],[23.33,3.2],[23.38,3.45],
  [23.44,2.65],[23.5,2.1],[23.58,1.8],[23.67,1.4],[23.75,0.85],[23.91,0.5]];
const p3Mountain = [[-0.093,0.3],[0.0,0.7],[0.09,1.25],[0.14,1.35],[0.2,0.7],[0.29,0],[0.37,0.45],[0.43,0.6],
  [0.51,0.2],[0.6,0],[0.8,0.3],[0.97,0.85],[1.05,0.45],[1.17,0],
  [2.05,0],[2.1,0.35],[2.2,0.3],[2.3,0],
  [2.81,0],[2.93,0.7],[3.04,1.4],[3.15,1.8],[3.23,1.25],[3.33,0.45],[3.37,0.9],[3.41,0],
  [4.7,0],[4.81,0.6],[4.97,1.0],[5.09,0.65],[5.2,1.0],[5.32,0.6],[5.43,0],
  [5.85,0],[5.88,0.45],[5.97,0.6],[6.05,0.2],[6.1,0],
  [6.75,0],[6.81,0.3],[6.92,1.0],[6.97,2.1],[7.03,0],[7.08,0],[7.12,3.75],[7.18,5.4],[7.23,4.1],[7.29,5.4],
  [7.35,4.8],[7.4,3.3],[7.46,2.35],[7.53,1.25],[7.59,0.85],[7.66,1.25],[7.74,2.4],[7.83,4.8],[7.9,7.0],[7.97,9.8],
  [8.05,10.5],[8.11,9.5],[8.18,7.45],[8.26,5.1],[8.31,3.05],[8.4,1.25],[8.48,0.7],[8.57,1.7],[8.65,2.5],[8.74,2.85],
  [8.82,2.95],[8.91,2.6],[8.99,1.95],[9.07,1.2],[9.14,0.7],[9.22,1.7],[9.31,3.05],[9.39,3.9],[9.47,4.1],[9.53,3.9],
  [9.62,3.45],[9.7,3.05],[9.79,2.65],[9.85,2.7],[9.9,2.2],[9.96,1.7],[10.02,0.5],[10.05,0],[10.1,0],[10.13,2.0],
  [10.19,2.65],[10.25,2.8],[10.33,2.5],[10.42,2.9],[10.5,2.5],[10.58,2.65],[10.67,2.1],[10.76,2.65],[10.84,3.2],
  [10.93,3.2],[10.98,2.5],[11.07,1.0],[11.15,1.4],[11.24,1.25],[11.33,0.7],[11.41,0],
  [12.8,0],[12.86,0.3],[12.94,0],
  [14.85,0],[14.95,0.3],[15.0,0.2],[15.05,0],
  [15.8,0],[15.85,0.45],[15.92,1.0],[15.98,1.8],[16.05,3.75],[16.11,4.4],[16.17,6.1],[16.21,7.3],[16.28,7.85],
  [16.35,8.5],[16.42,7.45],[16.48,6.2],[16.55,5.8],[16.62,4.4],[16.68,3.05],[16.74,1.7],[16.79,1.1],[16.85,1.25],
  [16.91,1.8],[16.95,1.8],[17.0,1.0],[17.05,0.2],[17.1,0],
  [17.9,0],[18.0,0.4],[18.1,0.2],[18.2,0],
  [18.85,0],[18.9,0.3],[18.93,0.85],[18.98,0],
  [19.9,0],[19.97,1.1],[20.03,1.7],[20.09,0],
  [20.83,0],[20.91,1.4],[20.97,2.35],[21.02,0.2],[21.08,0],
  [22.65,0],[22.76,1.7],[22.84,2.5],[22.93,2.5],[23.01,1.95],[23.07,1.0],[23.15,0.2],[23.22,0],[23.3,0.55],
  [23.35,1.0],[23.4,0.3],[23.45,0],[23.91,0]];
const p3Plains = [[-0.093,0],[-0.03,0.3],[0.06,0.45],[0.14,0.1],[0.2,0],[0.37,0],[0.43,0.35],[0.5,0],
  [0.86,0],[0.94,0.55],[1.03,0.7],[1.11,0.45],[1.22,0],
  [1.95,0],[2.05,0.2],[2.15,0.15],[2.25,0],
  [2.87,0],[2.98,1.0],[3.07,1.95],[3.15,2.9],[3.21,3.3],[3.27,2.8],[3.33,1.8],[3.38,2.1],[3.44,1.55],[3.5,1.25],
  [3.55,0.15],[3.6,0],
  [3.84,0],[3.95,1.0],[4.03,1.55],[4.09,2.1],[4.15,0.7],[4.2,0.45],[4.29,0.55],[4.4,0.65],[4.5,0.55],[4.58,0.3],
  [4.7,0],
  [4.8,0],[4.89,0.7],[4.97,1.95],[5.03,1.7],[5.09,1.4],[5.17,1.25],[5.26,1.0],[5.34,0.45],[5.42,0],
  [5.82,0],[5.91,0.7],[6.0,0.45],[6.11,0.3],[6.22,0.55],[6.34,1.25],[6.4,1.0],[6.46,0],
  [6.75,0],[6.81,0.55],[6.92,1.1],[7.0,0.55],[7.09,0.85],[7.18,0.55],[7.26,0],
  [9.7,0],[9.8,0.3],[9.9,0.2],[10.05,0.3],[10.15,0],
  [11.86,0],[11.98,1.0],[12.06,1.95],[12.15,2.8],[12.23,3.2],[12.29,3.45],[12.35,2.8],[12.43,2.1],[12.52,1.4],
  [12.6,0.5],[12.72,0],
  [13.9,0],[14.0,0.2],[14.1,0],
  [14.5,0],[14.65,0.3],[14.76,0.6],[14.89,1.0],[15.0,1.7],[15.09,2.35],[15.17,2.8],[15.23,3.05],[15.3,2.8],
  [15.37,2.2],[15.46,1.7],[15.51,1.1],[15.6,1.4],[15.68,1.7],[15.74,0.85],[15.8,0],[15.95,0],[16.03,1.0],[16.08,0],
  [16.93,0],[16.98,0.8],[17.05,0.9],[17.15,0.4],[17.22,0.6],[17.3,0.55],[17.38,0],
  [17.84,0],[17.95,0.4],[18.0,0.7],[18.08,0.4],[18.2,0.25],[18.3,0],
  [18.41,0],[18.52,0.55],[18.64,0.8],[18.75,0.3],[18.85,1.0],[18.93,3.05],[18.99,3.6],[19.05,0],[19.3,0],
  [19.38,0.45],[19.45,0],
  [19.89,0],[19.97,0.7],[20.06,1.1],[20.15,1.0],[20.26,1.4],[20.34,0],
  [21.03,0],[21.11,1.25],[21.2,2.35],[21.26,2.85],[21.32,2.1],[21.37,1.0],[21.42,0],
  [21.74,0],[21.82,0.45],[21.91,1.55],[21.96,1.7],[22.02,3.05],[22.1,4.15],[22.16,4.25],[22.19,0.3],[22.22,4.6],
  [22.25,5.4],[22.33,5.9],[22.42,6.1],[22.47,5.65],[22.53,4.85],[22.59,3.3],[22.65,1.7],[22.7,0.55],[22.76,0.1],
  [22.84,0.5],[22.93,0.2],[23.05,0.3],[23.16,1.0],[23.24,2.1],[23.3,2.35],[23.38,1.95],[23.47,1.1],[23.56,0.55],
  [23.65,0.3],[23.75,0],[23.91,0]];
const p3Merged = [[-0.093,0],[0.4,0],[0.5,0.1],[0.6,0],
  [1.0,0],[1.05,1.0],[1.1,1.4],[1.14,0.85],[1.2,0.3],[1.25,0],
  [3.89,0],[3.95,1.25],[4.04,1.7],[4.12,1.55],[4.2,1.1],[4.29,0.7],[4.37,1.25],[4.46,1.7],[4.53,1.8],[4.6,1.0],
  [4.66,0.3],[4.72,0],
  [7.8,0],[7.86,0.55],[7.92,0],
  [8.88,0],[8.94,0.55],[9.0,0.7],[9.05,0],
  [9.9,0],[9.95,0.45],[10.0,0.2],[10.2,0.3],[10.5,0.3],[10.7,0.2],[10.9,0],
  [11.04,0],[11.07,1.8],[11.17,1.8],[11.27,1.95],[11.35,2.0],[11.47,1.8],[11.58,1.4],[11.66,0.85],[11.72,0.8],
  [11.81,1.55],[11.89,2.2],[11.97,1.25],[12.06,0],
  [16.93,0],[16.99,1.7],[17.05,1.95],[17.1,0.3],[17.15,3.0],[17.19,7.0],[17.23,7.2],[17.28,6.2],[17.35,6.0],
  [17.39,6.0],[17.45,5.1],[17.5,3.75],[17.56,2.35],[17.62,1.0],[17.67,0.25],[17.73,0],
  [18.88,0],[18.94,2.0],[19.02,4.0],[19.1,5.8],[19.15,5.5],[19.2,5.6],[19.25,5.4],[19.31,4.4],[19.38,2.8],
  [19.43,2.65],[19.5,1.7],[19.56,2.1],[19.63,1.1],[19.72,0.45],[19.8,0.2],[19.86,0],
  [20.03,0],[20.07,2.35],[20.15,2.65],[20.22,2.9],[20.29,3.45],[20.33,0],[20.38,0],[20.41,5.8],[20.5,7.1],
  [20.55,6.75],[20.6,5.65],[20.66,3.9],[20.71,1.95],[20.77,0.55],[20.83,0],
  [21.05,0],[21.08,1.7],[21.11,3.75],[21.17,4.4],[21.22,5.25],[21.28,5.4],[21.34,5.8],[21.39,5.65],[21.45,6.2],
  [21.49,6.5],[21.53,4.85],[21.59,2.35],[21.64,0.55],[21.7,0],
  [23.3,0],[23.38,1.25],[23.44,1.8],[23.53,1.4],[23.62,1.0],[23.7,0.55],[23.78,0],[23.91,0]];
const p3Border = [[-0.093,0],[1.9,0],[2.0,0.3],[2.13,1.55],[2.22,3.2],[2.29,4.4],[2.35,4.7],[2.42,4.2],[2.5,3.8],
  [2.56,3.6],[2.63,2.65],[2.71,1.0],[2.77,0],
  [3.27,0],[3.31,1.95],[3.35,3.2],[3.4,3.4],[3.45,2.9],[3.51,2.5],[3.56,3.2],[3.62,3.45],[3.68,3.05],[3.75,2.65],
  [3.84,1.95],[3.9,1.25],[3.95,0.25],[4.0,0],
  [4.4,0],[4.45,0.3],[4.5,0],
  [6.31,0],[6.39,1.25],[6.51,1.8],[6.57,1.4],[6.65,0],
  [6.9,0],[6.95,0.35],[7.0,0],[7.05,0],[7.09,0.55],[7.13,0],
  [7.86,0],[7.9,1.25],[7.95,0],
  [8.58,0],[8.63,0.2],[8.68,0],
  [9.85,0],[9.93,0.55],[10.05,1.0],[10.13,1.7],[10.17,1.8],[10.22,0],
  [10.9,0],[10.98,1.0],[11.03,0],
  [12.12,0],[12.18,0.3],[12.24,0],
  [16.86,0],[16.91,0.2],[16.96,0],
  [18.87,0],[18.92,0.35],[18.97,0],
  [21.37,0],[21.43,0.55],[21.48,1.2],[21.53,0.55],[21.59,0],[21.85,0],[21.9,0.1],[21.95,0],[23.91,0]];
const p3Arrows = [[9.35,9.21,8.43,8.06],[17.36,10.17,16.58,6.86]];

// ---------------------------------------------------------------------------
// Layout and styling
// ---------------------------------------------------------------------------
const plotLeft = 198, plotRight = 3566, plotH = 504;
const panelTops = [79, 795, 1515];
const lineStyles = [
  { color: "#000000", width: 8 },
  { color: "#00FFFF", width: 5.3 },
  { color: "#D95319", width: 5.3 },
  { color: "#EDB120", width: 5.3 },
  { color: "#7E2F8E", width: 5.3 }
];
const bandColors = { G: "#e8e8e8", C: "#cdfcfc", Y: "#fcfac4", P: "#fcdcdc" };
const axisColor = "#262626";
const arrowColor = "#00A096";
const font = "'DejaVu Sans', sans-serif";

const panels = [
  { labels: p1Labels, domain: p1Domain, bands: p1Bands, series: [p1Total, p1Mountain, p1Plains, p1Merged, p1Border], arrows: p1Arrows, legend: true },
  { labels: p2Labels, domain: p2Domain, bands: p2Bands, series: [p2Total, p2Mountain, p2Plains, p2Merged, p2Border], arrows: p2Arrows, legend: false },
  { labels: p3Labels, domain: p3Domain, bands: p3Bands, series: [p3Total, p3Mountain, p3Plains, p3Merged, p3Border], arrows: p3Arrows, legend: false }
];

const svg = d3.select("#chart");
svg.append("rect").attr("width", 3543).attr("height", 2155).attr("fill", "#ffffff");
const defs = svg.append("defs");

panels.forEach((p, pi) => {
  const g = svg.append("g").attr("transform", `translate(0,${panelTops[pi]})`);
  const x = d3.scaleLinear().domain(p.domain).range([plotLeft, plotRight]);
  const y = d3.scaleLinear().domain([0, 15]).range([plotH, 0]);
  const dayTicks = d3.range(p.labels.length);

  const clipId = `clip${pi}`;
  defs.append("clipPath").attr("id", clipId)
    .append("rect").attr("x", plotLeft).attr("y", -6).attr("width", plotRight - plotLeft).attr("height", plotH + 12);

  // axes (the domain paths form the box)
  const styleAxis = sel => {
    sel.attr("font-family", null).attr("font-size", null);
    sel.select(".domain").attr("stroke", axisColor).attr("stroke-width", 3.2);
    sel.selectAll(".tick line").attr("stroke", axisColor).attr("stroke-width", 3);
    sel.selectAll(".tick text").attr("fill", "#262626").style("font-family", font).style("font-size", "42px");
  };
  g.append("g").attr("transform", `translate(0,${plotH})`)
    .call(d3.axisBottom(x).tickValues(dayTicks).tickFormat(i => p.labels[i]).tickSizeInner(-34).tickSizeOuter(0).tickPadding(34))
    .call(styleAxis);
  g.append("g")
    .call(d3.axisTop(x).tickValues(dayTicks).tickFormat("").tickSizeInner(-34).tickSizeOuter(0))
    .call(styleAxis)
    .select(".domain").attr("stroke", "#555555").attr("stroke-width", 4);
  g.append("g").attr("transform", `translate(${plotLeft},0)`)
    .call(d3.axisLeft(y).tickValues(yTicks).tickSizeInner(-24).tickSizeOuter(0).tickPadding(27))
    .call(styleAxis);
  g.append("g").attr("transform", `translate(${plotRight},0)`)
    .call(d3.axisRight(y).tickValues(yTicks).tickFormat("").tickSizeInner(-24).tickSizeOuter(0))
    .call(styleAxis);

  // shaded 6-hour windows (drawn over the box edge, under the series)
  g.append("g").selectAll("rect").data(p.bands).join("rect")
    .attr("x", d => x(d[0] / 2 + 0.19))
    .attr("width", d => x(d[0] / 2 + 0.43) - x(d[0] / 2 + 0.19))
    .attr("y", -2.5)
    .attr("height", plotH + 2.5)
    .attr("fill", d => bandColors[d[1]]);

  // series lines
  const line = d3.line().x(d => x(d[0])).y(d => y(d[1]));
  g.append("g").attr("clip-path", `url(#${clipId})`)
    .selectAll("path").data(p.series).join("path")
    .attr("d", line)
    .attr("fill", "none")
    .attr("stroke", (d, i) => lineStyles[i].color)
    .attr("stroke-width", (d, i) => lineStyles[i].width)
    .attr("stroke-linejoin", "round")
    .attr("stroke-linecap", "round");

  // exponent label
  const ex = g.append("text").attr("x", plotLeft + 2).attr("y", -12)
    .attr("fill", "#262626").style("font-family", font).style("font-size", "40px");
  ex.append("tspan").text("\u00d710");
  ex.append("tspan").attr("dy", -18).style("font-size", "28px").text("8");

  // y label
  const yl = g.append("text")
    .attr("transform", `translate(90,${plotH / 2}) rotate(-90)`)
    .attr("text-anchor", "middle").attr("fill", "#262626")
    .style("font-family", font).style("font-size", "47px");
  yl.append("tspan").text("Accum. precip. (m");
  yl.append("tspan").attr("dy", -18).style("font-size", "33px").text("3");
  yl.append("tspan").attr("dy", 18).text(")");

  // x label
  g.append("text").attr("x", (plotLeft + plotRight) / 2).attr("y", plotH + 124)
    .attr("text-anchor", "middle").attr("fill", "#262626")
    .style("font-family", font).style("font-size", "47px").text("Days");

  // highlight arrows
  p.arrows.forEach(a => {
    const tx = x(a[0]), ty = y(a[1]), hx = x(a[2]), hy = y(a[3]);
    const len = Math.hypot(hx - tx, hy - ty);
    const ux = (hx - tx) / len, uy = (hy - ty) / len;
    const nx = -uy, ny = ux;
    const headL = 48, headW = 21, shaftW = 5;
    const bx = hx - ux * headL, by = hy - uy * headL;
    const pts = [
      [tx + nx * shaftW, ty + ny * shaftW],
      [bx + nx * shaftW, by + ny * shaftW],
      [bx + nx * headW, by + ny * headW],
      [hx, hy],
      [bx - nx * headW, by - ny * headW],
      [bx - nx * shaftW, by - ny * shaftW],
      [tx - nx * shaftW, ty - ny * shaftW]
    ];
    g.append("polygon").attr("points", pts.map(q => q.join(",")).join(" ")).attr("fill", arrowColor);
  });

  // legend
  if (p.legend) {
    const lg = g.append("g").attr("transform", `translate(${plotLeft + 47},47)`);
    lg.append("rect").attr("width", 379).attr("height", 282)
      .attr("fill", "#ffffff").attr("stroke", axisColor).attr("stroke-width", 3);
    const rows = lg.selectAll("g.row").data(seriesNames).join("g").attr("class", "row")
      .attr("transform", (d, i) => `translate(0,${34 + i * 54})`);
    rows.append("line").attr("x1", 14).attr("x2", 163).attr("y1", 0).attr("y2", 0)
      .attr("stroke", (d, i) => lineStyles[i].color).attr("stroke-width", (d, i) => lineStyles[i].width);
    rows.append("text").attr("x", 176).attr("dy", "0.35em").attr("fill", "#1a1a1a")
      .style("font-family", font).style("font-size", "40px").text(d => d);
  }
});
</script>
</body>
</html>
